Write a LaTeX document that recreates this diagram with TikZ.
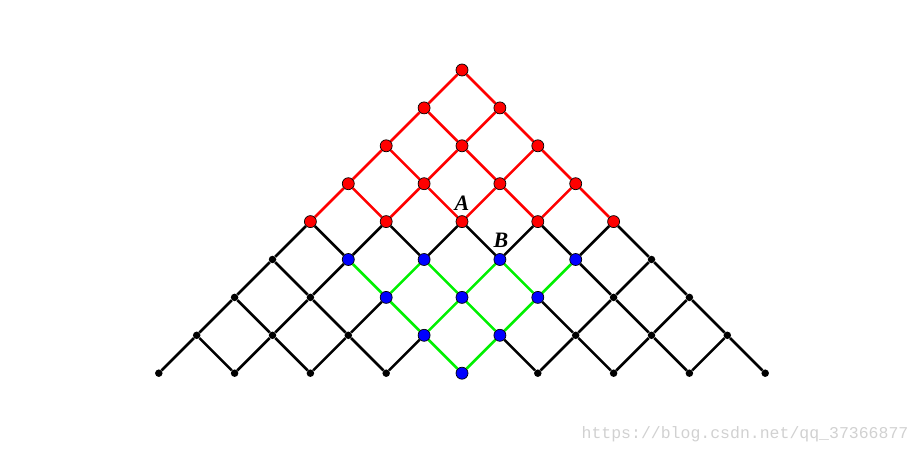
\documentclass[tikz,border=0pt]{standalone}
\usepackage{fontspec}
\newfontfamily\wmfont{Liberation Mono}
\newfontfamily\lblfont{Liberation Serif}
\pgfdeclarelayer{background}
\pgfsetlayers{background,main}
\definecolor{rd}{RGB}{255,0,0}
\definecolor{gn}{RGB}{0,240,0}
\definecolor{bl}{RGB}{0,0,255}
\tikzset{
  rednode/.style={circle,draw=black,line width=0.7pt,fill=rd,minimum size=12pt,inner sep=0pt},
  bluenode/.style={circle,draw=black,line width=0.7pt,fill=bl,minimum size=12pt,inner sep=0pt},
  blacknode/.style={circle,fill=black,minimum size=7.5pt,inner sep=0pt},
  edgered/.style={draw=rd,line width=2.6pt},
  edgegreen/.style={draw=gn,line width=2.6pt},
  edgeblack/.style={draw=black,line width=2.6pt},
  lbl/.style={font=\lblfont\fontsize{22}{22}\selectfont\bfseries\itshape,inner sep=0pt,anchor=base},
  wm/.style={font=\wmfont\fontsize{16.5}{16.5}\selectfont,text=black!18,inner sep=0pt}
}
\begin{document}
\begin{tikzpicture}[x=1pt,y=1pt]
\useasboundingbox (0,0) rectangle (921,-454);
\foreach \r in {0,...,8}{
  \foreach \k in {0,...,\r}{
    \pgfmathsetmacro\xx{462+37.9*(2*\k-\r)}
    \pgfmathsetmacro\yy{70+37.9*\r}
    \pgfmathtruncatemacro\ba{(\r>4)*(\k>\r-5)*(\k<5)}
    \ifnum\r<5 \def\st{rednode}\else
      \ifnum\ba=1 \def\st{bluenode}\else\def\st{blacknode}\fi
    \fi
    \node[\st] (n-\r-\k) at (\xx,-\yy) {};
  }
}
\begin{pgfonlayer}{background}
\foreach \r in {0,...,7}{
  \pgfmathtruncatemacro\rr{\r+1}
  \foreach \k in {0,...,\r}{
    \pgfmathtruncatemacro\kk{\k+1}
    \pgfmathtruncatemacro\ba{(\r>4)*(\k>\r-5)*(\k<5)}
    \pgfmathtruncatemacro\bb{(\rr>4)*(\k>\rr-5)*(\k<5)}
    \pgfmathtruncatemacro\bc{(\rr>4)*(\kk>\rr-5)*(\kk<5)}
    \pgfmathtruncatemacro\gl{\ba*\bb}
    \pgfmathtruncatemacro\gr{\ba*\bc}
    \ifnum\rr<5 \def\sl{edgered}\def\sr{edgered}\else
      \ifnum\gl=1 \def\sl{edgegreen}\else\def\sl{edgeblack}\fi
      \ifnum\gr=1 \def\sr{edgegreen}\else\def\sr{edgeblack}\fi
    \fi
    \draw[\sl] (n-\r-\k) -- (n-\rr-\k);
    \draw[\sr] (n-\r-\k) -- (n-\rr-\kk);
  }
}
\end{pgfonlayer}
\node[lbl] (labA) at (462,-211) {A};
\node[lbl] (labB) at (501,-248) {B};
\node[wm] (wmark) at (745,-434) {https://blog.csdn.net/qq\_37366877};
\end{tikzpicture}
\end{document}
